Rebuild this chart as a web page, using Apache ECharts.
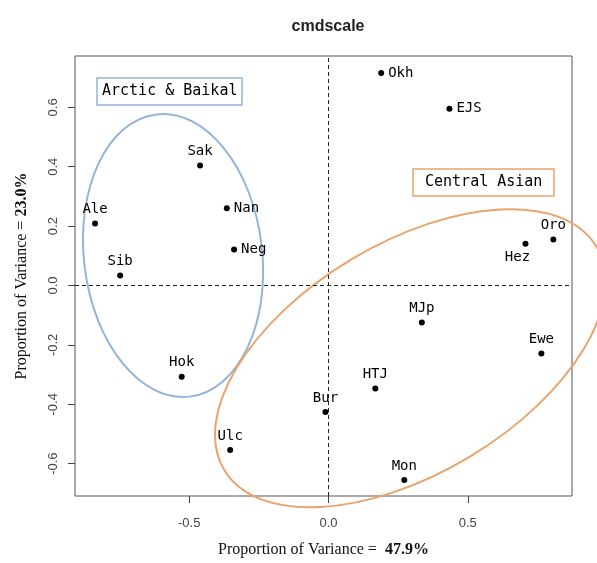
<!DOCTYPE html>
<html>
<head>
<meta charset="utf-8">
<script src="https://cdn.jsdelivr.net/npm/echarts@6/dist/echarts.min.js"></script>
<style>
  html, body { margin: 0; padding: 0; background: #fff; }
  #chart { width: 597px; height: 563px; }
</style>
</head>
<body>
<div id="chart"></div>
<script>
  // population codes and their coordinates on the two first dimensions
  const names = ['Okh', 'EJS', 'Sak', 'Nan', 'Ale', 'Neg', 'Sib', 'Oro', 'Hez', 'MJp', 'Ewe', 'Hok', 'HTJ', 'Bur', 'Ulc', 'Mon']
  const dim1 = [0.189, 0.434, -0.461, -0.365, -0.838, -0.339, -0.748, 0.807, 0.707, 0.335, 0.764, -0.527, 0.168, -0.011, -0.353, 0.272]
  const dim2 = [0.716, 0.595, 0.404, 0.260, 0.209, 0.121, 0.034, 0.155, 0.141, -0.125, -0.229, -0.307, -0.347, -0.426, -0.554, -0.655]

  const xTicks = [-0.5, 0, 0.5]
  const yTicks = [-0.6, -0.4, -0.2, 0, 0.2, 0.4, 0.6]

  // group ellipses (centre in data units, semi axes in x units, tilt in degrees)
  const groups = ['Arctic & Baikal', 'Central Asian']
  const groupCx = [-0.558, 0.2935]
  const groupCy = [0.101, -0.245]
  const groupA = [0.510, 0.779]
  const groupB = [0.320, 0.413]
  const groupTilt = [-83.3, 31]

  const groupColors = ['#93b4da', '#e9a36b']
  const labelPos = { Okh: 'right', EJS: 'right', Nan: 'right', Neg: 'right', Hez: 'bottom' }
  const labelOffset = { Hez: [-8, 0] }

  const monoFont = '"DejaVu Sans Mono", monospace'

  const points = names.map((n, i) => ({
    name: n,
    value: [dim1[i], dim2[i]],
    label: {
      position: labelPos[n] || 'top',
      offset: labelOffset[n] || [0, 0]
    }
  }))

  const ellipses = groups.map((g, i) => [groupCx[i], groupCy[i], groupA[i], groupB[i], groupTilt[i]])

  const option = {
    animation: false,
    backgroundColor: '#fff',
    title: [{
      text: 'cmdscale',
      left: 323,
      top: 14,
      textAlign: 'center',
      textStyle: { fontFamily: '"Liberation Sans", Arial, sans-serif', fontWeight: 'bold', fontSize: 16, color: '#222' }
    }, {
      text: groups[0],
      left: 97,
      top: 78,
      padding: [4, 5],
      borderColor: groupColors[0],
      borderWidth: 1.5,
      textStyle: { fontFamily: monoFont, fontWeight: 'normal', fontSize: 15, color: '#000', lineHeight: 19 }
    }, {
      text: groups[1],
      left: 413,
      top: 169,
      padding: [4, 12],
      borderColor: groupColors[1],
      borderWidth: 1.5,
      textStyle: { fontFamily: monoFont, fontWeight: 'normal', fontSize: 15, color: '#000', lineHeight: 19 }
    }],
    grid: {
      left: 75,
      right: 25,
      top: 56,
      bottom: 66,
      show: true,
      borderColor: '#555',
      borderWidth: 1
    },
    xAxis: {
      type: 'value',
      min: -0.91,
      max: 0.874,
      name: 'Proportion of Variance =  {b|47.9%}',
      nameLocation: 'middle',
      nameGap: 46,
      nameTextStyle: {
        fontFamily: '"Liberation Serif", "Times New Roman", serif',
        fontSize: 16,
        color: '#111',
        rich: { b: { fontFamily: '"Liberation Serif", serif', fontSize: 16, fontWeight: 'bold', color: '#111' } }
      },
      axisLine: { show: false, onZero: false },
      axisTick: { show: true, length: 7, customValues: xTicks, lineStyle: { color: '#444' } },
      axisLabel: {
        customValues: xTicks,
        margin: 21,
        fontFamily: '"Liberation Sans", Arial, sans-serif',
        fontSize: 13,
        color: '#444',
        formatter: v => v.toFixed(1)
      },
      splitLine: { show: false }
    },
    yAxis: {
      type: 'value',
      min: -0.709,
      max: 0.773,
      name: 'Proportion of Variance = {b|23.0%}',
      nameLocation: 'middle',
      nameGap: 45,
      nameTextStyle: {
        fontFamily: '"Liberation Serif", "Times New Roman", serif',
        fontSize: 16,
        color: '#111',
        rich: { b: { fontFamily: '"Liberation Serif", serif', fontSize: 16, fontWeight: 'bold', color: '#111' } }
      },
      axisLine: { show: false, onZero: false },
      axisTick: { show: true, length: 7, customValues: yTicks, lineStyle: { color: '#444' } },
      axisLabel: {
        customValues: yTicks,
        rotate: 90,
        margin: 15,
        fontFamily: '"Liberation Sans", Arial, sans-serif',
        fontSize: 13,
        color: '#444',
        formatter: v => v.toFixed(1)
      },
      splitLine: { show: false }
    },
    series: [{
      type: 'scatter',
      symbol: 'circle',
      symbolSize: 6,
      itemStyle: { color: '#000', opacity: 1 },
      label: {
        show: true,
        formatter: '{b}',
        distance: 4,
        fontFamily: monoFont,
        fontSize: 14,
        color: '#000'
      },
      data: points,
      markLine: {
        silent: true,
        symbol: 'none',
        label: { show: false },
        lineStyle: { type: [4, 3], color: '#222', width: 1 },
        data: [{ xAxis: 0 }, { yAxis: 0 }]
      },
      z: 5
    }, {
      type: 'custom',
      clip: false,
      silent: true,
      encode: { x: 0, y: 1 },
      data: ellipses,
      renderItem(params, api) {
        const c = api.coord([api.value(0), api.value(1)])
        const rx = api.size([api.value(2), 0])[0]
        const ry = api.size([api.value(3), 0])[0]
        return {
          type: 'ellipse',
          x: c[0],
          y: c[1],
          rotation: api.value(4) * Math.PI / 180,
          shape: { cx: 0, cy: 0, rx: rx, ry: ry },
          style: { fill: null, stroke: groupColors[params.dataIndex], lineWidth: 2 }
        }
      },
      z: 3
    }]
  }

  const myChart = echarts.init(document.getElementById('chart'))
  myChart.setOption(option)
</script>
</body>
</html>
